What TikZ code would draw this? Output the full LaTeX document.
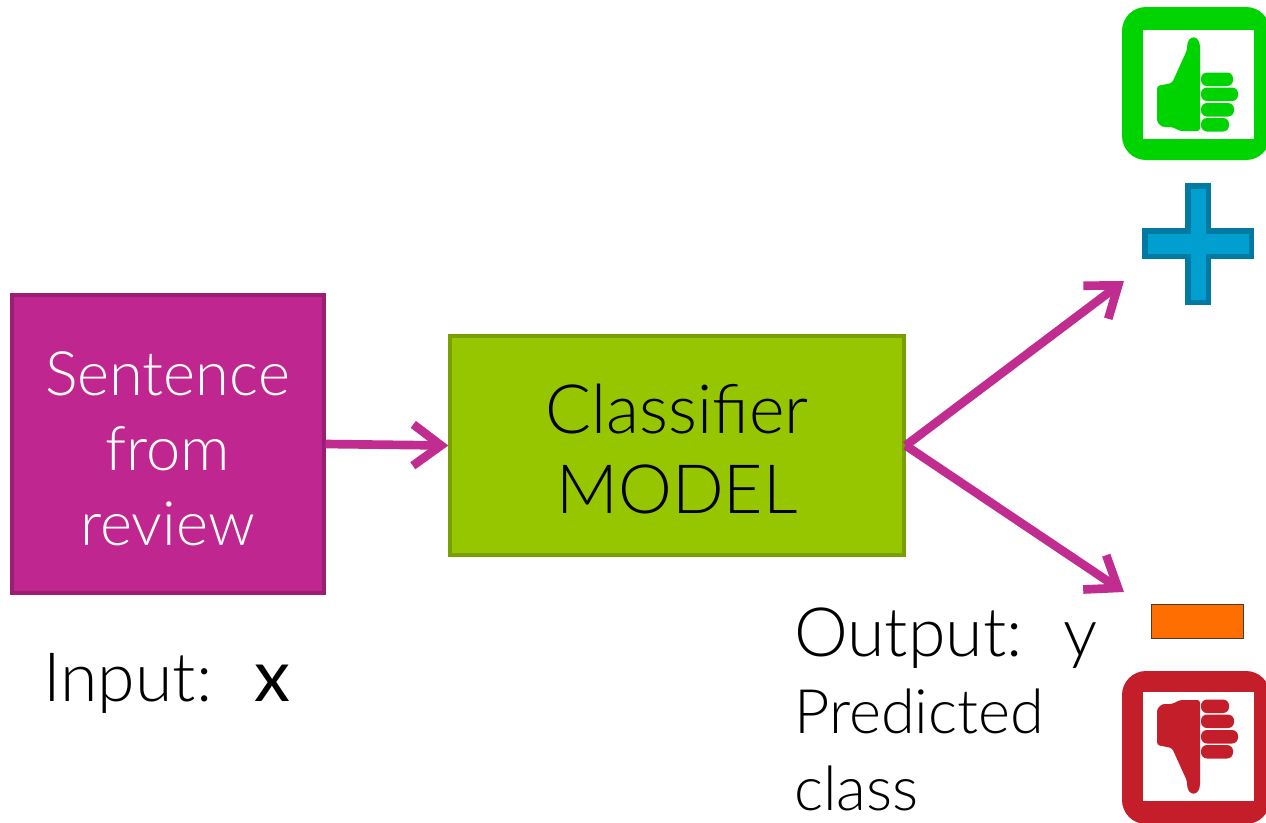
\documentclass[tikz,border=0pt]{standalone}
\usepackage{fontspec}
\setmainfont{Lato Light}[BoldFont=Lato]
\usetikzlibrary{arrows.meta}
\definecolor{magfill}{HTML}{C0268F}
\definecolor{magline}{HTML}{9A1F73}
\definecolor{grnfill}{HTML}{95C600}
\definecolor{grnline}{HTML}{7A9F00}
\definecolor{arrowc}{HTML}{C02C90}
\definecolor{upgreen}{HTML}{00D400}
\definecolor{downred}{HTML}{C41E2A}
\definecolor{plusfill}{HTML}{009FD0}
\definecolor{plusline}{HTML}{0079A3}
\definecolor{minusfill}{HTML}{FF6E00}
\definecolor{minusline}{HTML}{4A3A30}
\tikzset{
  x=0.75pt,y=-0.75pt,
  boxnode/.style={rectangle,minimum width=#1,align=center,line width=3pt,inner sep=0pt},
  lbl/.style={anchor=west,inner sep=0pt,align=left},
  flow/.style={draw=arrowc,line width=6.5pt,-{Straight Barb[length=21pt,width=31pt,line width=6.5pt]}},
}
\newcommand{\thumbicon}[1]{%
  \fill[#1,rounded corners=18pt] (1122,7) rectangle (1270,160);
  \fill[white] (1143,30) rectangle (1254,139);
  \fill[#1,rounded corners=2pt] (1157,86) -- (1172,83) -- (1187,50) .. controls (1187,34) and (1200,34) .. (1200,50) -- (1200,131) -- (1180,131) -- (1172,127) -- (1162,127) -- (1157,122) -- cycle;
  \fill[#1,rounded corners=4.5pt] (1201,72.5) rectangle (1233,86);
  \fill[#1,rounded corners=4.5pt] (1201,87.5) rectangle (1238,101);
  \fill[#1,rounded corners=4.5pt] (1201,103) rectangle (1234,116.5);
  \fill[#1,rounded corners=4.5pt] (1201,118) rectangle (1229,131.5);
}
\begin{document}
\begin{tikzpicture}
\useasboundingbox (0,0) rectangle (1266,822);
\clip (0,0) rectangle (1266,822);
\fill[white] (0,0) rectangle (1266,822);
\node[boxnode=234pt,minimum height=224pt,fill=magfill,draw=magline] (input) at (167.5,444) {};
\node[text=white,align=center,inner sep=0pt,font=\fontsize{46}{56.25}\selectfont] (inputtext) at (167.5,449) {Sentence\\from\\review};
\node[boxnode=340pt,minimum height=164pt,fill=grnfill,draw=grnline] (model) at (677,445.5) {};
\node[text=black,align=center,inner sep=0pt,font=\fontsize{51}{60}\selectfont] (modeltext) at (677,449) {Classifier\\MODEL};
\coordinate (posend) at (1124,281);
\coordinate (negend) at (1124,592);
\draw[flow] (input.east) -- (model.west);
\draw[flow] (model.east) -- (posend);
\draw[flow] (model.east) -- (negend);
\thumbicon{upgreen}
\begin{scope}[shift={(0,831)},yscale=-1]
\thumbicon{downred}
\end{scope}
\fill[plusline] (1185,183) rectangle (1211,305);
\fill[plusline] (1142,228) rectangle (1254,259);
\fill[plusfill] (1190.5,188.5) rectangle (1205.5,299.5);
\fill[plusfill] (1147.5,233.5) rectangle (1248.5,253.5);
\node[draw=minusline,fill=minusfill,line width=1pt,minimum width=69pt,minimum height=25.5pt,inner sep=0pt] (minus) at (1197.5,621.5) {};
\node[lbl,font=\fontsize{51}{56}\selectfont] (inlbl) at (43,683) {Input:\hspace{0.62em}\textbf{\fontsize{54}{56}\selectfont x}};
\node[lbl,font=\fontsize{51}{56}\selectfont] (outlbl) at (794,638) {Output:\hspace{0.6em}y};
\node[lbl,font=\fontsize{46}{58}\selectfont] (predlbl) at (794,750) {Predicted\\class};
\end{tikzpicture}
\end{document}
